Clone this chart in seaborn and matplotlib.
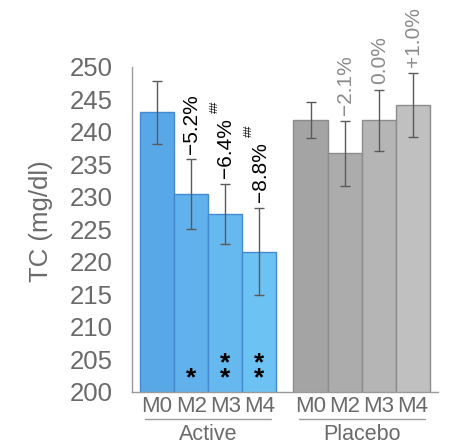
import matplotlib
matplotlib.use("Agg")
import matplotlib.pyplot as plt
import matplotlib.transforms as mtransforms
import seaborn as sns
import pandas as pd
import numpy as np

# data
groups = ["Active", "Placebo"]
months = ["M0", "M2", "M3", "M4"]
active_mean = [243.0, 230.4, 227.4, 221.6]
active_err = [4.9, 5.4, 4.6, 6.7]
placebo_mean = [241.8, 236.7, 241.8, 244.2]
placebo_err = [2.8, 5.0, 4.7, 4.9]
active_pct = ["", "\u22125.2%", "\u22126.4%", "\u22128.8%"]
active_sup = ["", "", "##", "##"]
active_stars = ["", "*", "**", "**"]
placebo_pct = ["", "\u22122.1%", "0.0%", "+1.0%"]

active_colors = ["#58a8e8", "#60b1ec", "#66b9ef", "#6cc2f2"]
placebo_colors = ["#a4a4a4", "#acacac", "#b5b5b5", "#c0c0c0"]

sns.set_style("white")
plt.rcParams["font.family"] = ["Liberation Sans", "DejaVu Sans"]

GRID = "#9a9a9a"
TXT = "#6a6a6a"

# bar positions: second group shifted by half a bar as a gap
pos = [i for i in range(4)] + [4.5 + i for i in range(4)]
df = pd.DataFrame({
    "pos": pos,
    "mean": active_mean + placebo_mean,
    "err": active_err + placebo_err,
    "key": [f"{g} {m}" for g in groups for m in months],
    "month": months * 2,
})
palette = dict(zip(df["key"], active_colors + placebo_colors))

fig = plt.figure(figsize=(4.59, 4.46), dpi=100)
ax = fig.add_axes([0.2876, 0.1211, 0.954 - 0.2876, 0.8498 - 0.1211])

sns.barplot(data=df, x="pos", y="mean", hue="key", palette=palette,
            native_scale=True, dodge=False, width=1.0, legend=False,
            errorbar=None, saturation=1, ax=ax)
for patch, g in zip(ax.patches, [0] * 4 + [1] * 4):
    patch.set_edgecolor("#4589d0" if g == 0 else "#8c8c8c")
    patch.set_linewidth(1.0)

ax.errorbar(df["pos"], df["mean"], yerr=df["err"], fmt="none",
            ecolor="#5a5a5a", elinewidth=1.0, capsize=3.5, capthick=1.0,
            clip_on=False, zorder=5)

ax.set_ylim(200, 250)
ax.set_yticks(range(200, 251, 5))
xmin, xmax = -0.735, 8.235
ax.set_xlim(xmin, xmax)
ax.set_xticks(df["pos"])
ax.set_xticklabels(df["month"])
ax.set_xticks([xmin + 0.005, 3.75, xmax - 0.005], minor=True)
ax.tick_params(axis="x", which="major", length=0, pad=3, labelsize=16,
               labelcolor=TXT)
ax.tick_params(axis="x", which="minor", length=6, width=1, color=GRID,
               direction="out")
ax.tick_params(axis="y", length=0, pad=14, labelsize=18.5, labelcolor=TXT)
ax.set_xlabel("")
ax.set_ylabel("TC (mg/dl)", fontsize=18.5, color=TXT)
ax.yaxis.set_label_coords(-0.258, 0.526)

sns.despine(ax=ax, top=True, right=True)
for side in ["left", "bottom"]:
    ax.spines[side].set_color(GRID)
    ax.spines[side].set_linewidth(1.0)

# percentage labels above the error bars
for i in range(8):
    top = df["mean"][i] + df["err"][i]
    if i < 4:
        label, color = active_pct[i], "black"
    else:
        label, color = placebo_pct[i - 4], "#8a8a8a"
    if not label:
        continue
    t = ax.annotate(label, (df["pos"][i], top), xytext=(0.5, 4),
                    textcoords="offset points", rotation=90, ha="center",
                    va="bottom", fontsize=15, color=color,
                    annotation_clip=False)
    if i < 4 and active_sup[i]:
        ax.annotate(active_sup[i], xy=(0.0, 1.0), xycoords=t,
                    xytext=(-1, 4), textcoords="offset points",
                    rotation=90, ha="center", va="bottom", fontsize=8,
                    color="black")

# significance stars at the bottom of the active bars
for i in range(4):
    if not active_stars[i]:
        continue
    ax.annotate("\n".join(active_stars[i]), (df["pos"][i], 200),
                xytext=(0, 1), textcoords="offset points", ha="center",
                va="bottom", fontsize=19, fontweight="bold", color="black",
                linespacing=0.55)

# group underlines and names
trans = mtransforms.blended_transform_factory(ax.transData, ax.transAxes)
for g, name in enumerate(groups):
    x0 = pos[g * 4] - 0.35
    x1 = pos[g * 4 + 3] + 0.35
    ax.plot([x0, x1], [-0.083, -0.083], color=GRID, lw=1.0,
            transform=trans, clip_on=False)
    ax.text((x0 + x1) / 2, -0.13, name, transform=trans, ha="center",
            va="center", fontsize=15.5, color=TXT)

fig.savefig("out.png", dpi=100)
